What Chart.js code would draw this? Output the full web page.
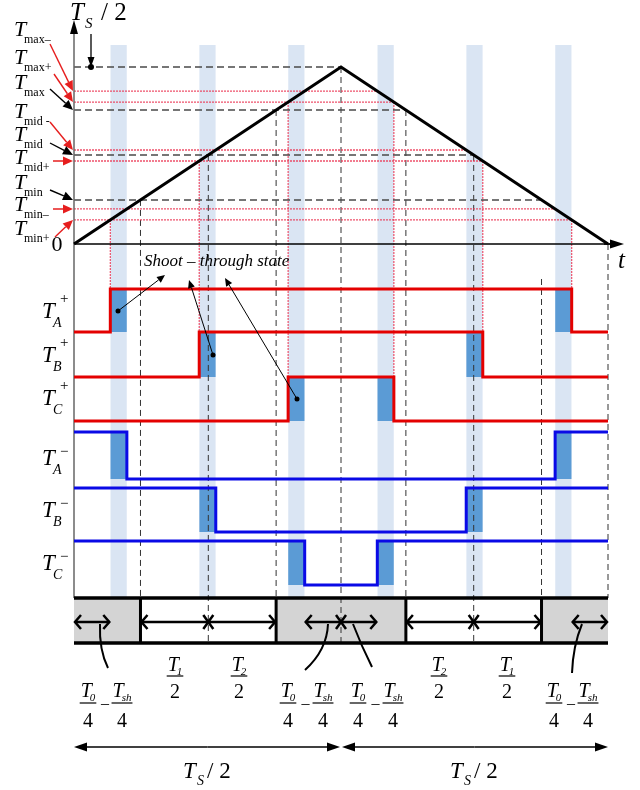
<!DOCTYPE html>
<html>
<head>
<meta charset="utf-8">
<script src="https://cdn.jsdelivr.net/npm/chart.js@4.4.0/dist/chart.umd.min.js"></script>
<style>
body { margin: 0; background: #fff; }
#wrap { width: 640px; height: 790px; }
</style>
</head>
<body>
<div id="wrap"><canvas id="mycanvas" width="640" height="790"></canvas></div>
<script>
// carrier: time as a fraction of Ts, value as a fraction of the peak (Ts/2)
var carrierTime = [0, 0.5, 1];
var carrierValue = [0, 1, 0];

// reference levels on the left axis (fraction of peak)
var levelNames  = ['max\u2013', 'max+', 'max', 'mid -', 'mid', 'mid+', 'min', 'min\u2013', 'min+'];
var levelValues = [0.864, 0.802, 0.757, 0.531, 0.503, 0.469, 0.249, 0.198, 0.136];
var levelShoot  = [1, 1, 0, 1, 0, 1, 0, 1, 1];

// which level switches which leg
var phaseNames  = ['A', 'B', 'C'];
var upperLevels = [0.136, 0.469, 0.802];   // Tmin+, Tmid+, Tmax+
var lowerLevels = [0.198, 0.531, 0.864];   // Tmin-, Tmid-, Tmax-
var refLevels   = [0.249, 0.503, 0.757];   // Tmin, Tmid, Tmax

// interval labels under the bar
var zeroLabel = ['0', 'sh'];
var activeLabels = ['1', '2', '2', '1'];

// layout (pixels)
var X0 = 74, XW = 534;
var lay = {
  base: 244, peak: 67, bandTop: 45, barTop: 598, barBot: 643, arrowY: 622, spanY: 747,
  rowHigh: [289, 332, 377, 432, 488, 541],
  rowLow:  [332, 377, 421, 479, 532, 585],
  axisTop: 20, tEnd: (624 - X0) / XW
};
function cy(v) { return lay.base - (lay.base - lay.peak) * v; }
function rise(v) { return v / 2; }
function fall(v) { return 1 - v / 2; }

var RED = 'rgb(228,0,0)', BLUE = 'rgb(10,10,230)';
var BAND = 'rgb(218,229,243)', DARK = 'rgb(91,155,213)', GRAY = 'rgb(212,212,212)';
var PINK = 'rgba(235,50,80,0.85)';

var ds = [];
function line(pts, color, w, dash, order) {
  ds.push({
    data: pts.map(function(p) { return {x: p[0], y: p[1]}; }),
    borderColor: color, borderWidth: w, borderDash: dash || [],
    pointRadius: 0, fill: false, order: order, tension: 0,
    borderCapStyle: 'butt', borderJoinStyle: 'miter'
  });
}
function box(t1, t2, top, bot, color, order) {
  ds.push({
    data: [{x: t1, y: top}, {x: t2, y: top}],
    borderColor: 'rgba(0,0,0,0)', borderWidth: 1, backgroundColor: color,
    fill: {value: bot}, pointRadius: 0, order: order
  });
}

// shoot-through bands and the dark blocks on each leg
for (var p = 0; p < 3; p++) {
  var up = upperLevels[p], lo = lowerLevels[p];
  box(rise(up), rise(lo), lay.bandTop, lay.barTop, BAND, 30);
  box(fall(lo), fall(up), lay.bandTop, lay.barTop, BAND, 30);
  [p, p + 3].forEach(function(r) {
    box(rise(up), rise(lo), lay.rowHigh[r], lay.rowLow[r], DARK, 25);
    box(fall(lo), fall(up), lay.rowHigh[r], lay.rowLow[r], DARK, 25);
  });
}

// bar below the legs
box(0, rise(refLevels[0]), lay.barTop, lay.barBot, GRAY, 25);
box(rise(refLevels[2]), fall(refLevels[2]), lay.barTop, lay.barBot, GRAY, 25);
box(fall(refLevels[0]), 1, lay.barTop, lay.barBot, GRAY, 25);

// level lines
for (var i = 0; i < levelValues.length; i++) {
  var v = levelValues[i];
  if (levelShoot[i]) line([[0, cy(v)], [fall(v), cy(v)]], PINK, 1.3, [2, 1], 20);
  else line([[0, cy(v)], [fall(v), cy(v)]], '#4a4a4a', 1.6, [7, 4], 20);
}
line([[0, cy(1)], [0.5, cy(1)]], '#4a4a4a', 1.6, [7, 4], 20);

// dashed verticals at the reference crossings
for (var k = 0; k < 3; k++) {
  var r = refLevels[k];
  line([[rise(r), cy(r)], [rise(r), lay.barBot]], '#333', 1, [6, 4], 20);
  var topF = k === 0 ? lay.rowHigh[0] - 10 : cy(r);
  line([[fall(r), topF], [fall(r), lay.barBot]], '#333', 1, [6, 4], 20);
}
line([[0.5, cy(1)], [0.5, lay.barBot]], '#333', 1, [6, 4], 20);
line([[1, lay.base], [1, lay.barTop]], '#333', 1, [6, 4], 20);

// red dotted verticals down to the upper legs
for (var p2 = 0; p2 < 3; p2++) {
  var u = upperLevels[p2];
  line([[rise(u), cy(u)], [rise(u), lay.rowHigh[p2]]], PINK, 1.2, [2, 1], 20);
  line([[fall(u), cy(u)], [fall(u), lay.rowHigh[p2]]], PINK, 1.2, [2, 1], 20);
}

// axes
line([[0, lay.barTop], [0, lay.axisTop + 10]], '#666', 1.5, [], 15);
line([[0, lay.base], [lay.tEnd - 0.02, lay.base]], '#000', 1.5, [], 15);

// carrier
line(carrierTime.map(function(t, j) { return [t, cy(carrierValue[j])]; }), '#000', 3, [], 5);

// gate signals
for (var p3 = 0; p3 < 3; p3++) {
  var L = upperLevels[p3], hi = lay.rowHigh[p3], lw = lay.rowLow[p3];
  line([[0, lw], [rise(L), lw], [rise(L), hi], [fall(L), hi], [fall(L), lw], [1, lw]], RED, 3, [], 5);
  var M = lowerLevels[p3], hi2 = lay.rowHigh[p3 + 3], lw2 = lay.rowLow[p3 + 3];
  line([[0, hi2], [rise(M), hi2], [rise(M), lw2], [fall(M), lw2], [fall(M), hi2], [1, hi2]], BLUE, 3, [], 5);
}

// bar outline and dividers
line([[0, lay.barTop], [1, lay.barTop]], '#000', 3.5, [], 4);
line([[0, lay.barBot], [1, lay.barBot]], '#000', 3.5, [], 4);
[rise(refLevels[0]), rise(refLevels[2]), fall(refLevels[2]), fall(refLevels[0])].forEach(function(t) {
  line([[t, lay.barTop], [t, lay.barBot]], '#000', 3, [], 4);
});

var serif = '"Liberation Serif", "Times New Roman", serif';

var labelsPlugin = {
  id: 'labels',
  afterDatasetsDraw: function(chart) {
    var ctx = chart.ctx, xs = chart.scales.x, ys = chart.scales.y;
    function X(t) { return xs.getPixelForValue(t); }
    function Y(v) { return ys.getPixelForValue(v); }
    function txt(s, x, y, size, italic, align) {
      ctx.font = (italic ? 'italic ' : '') + size + 'px ' + serif;
      ctx.textAlign = align || 'left';
      ctx.textBaseline = 'alphabetic';
      ctx.fillText(s, x, y);
    }
    function arrow(x1, y1, x2, y2, color, w, hl, hw) {
      var a = Math.atan2(y2 - y1, x2 - x1);
      var bx = x2 - hl * Math.cos(a), by = y2 - hl * Math.sin(a);
      ctx.strokeStyle = color; ctx.fillStyle = color; ctx.lineWidth = w;
      ctx.beginPath(); ctx.moveTo(x1, y1); ctx.lineTo(bx, by); ctx.stroke();
      ctx.beginPath(); ctx.moveTo(x2, y2);
      ctx.lineTo(bx + hw * Math.sin(a), by - hw * Math.cos(a));
      ctx.lineTo(bx - hw * Math.sin(a), by + hw * Math.cos(a));
      ctx.closePath(); ctx.fill();
    }
    function dot(x, y, r) { ctx.beginPath(); ctx.arc(x, y, r, 0, Math.PI * 2); ctx.fill(); }
    function chev(x, y, dir) {
      ctx.beginPath(); ctx.moveTo(x - dir * 6, y - 7); ctx.lineTo(x, y); ctx.lineTo(x - dir * 6, y + 7); ctx.stroke();
    }
    function cross(x, y) {
      ctx.beginPath(); ctx.moveTo(x - 5, y - 7); ctx.lineTo(x + 5, y + 7);
      ctx.moveTo(x + 5, y - 7); ctx.lineTo(x - 5, y + 7); ctx.stroke();
    }
    function frac(cx, sub, den, yNum, yBar, yDen) {
      ctx.font = 'italic 20px ' + serif;
      var wT = ctx.measureText('T').width;
      ctx.font = 'italic 11px ' + serif;
      var wS = ctx.measureText(sub).width;
      var w = wT + wS - 2, x0 = cx - w / 2;
      txt('T', x0, yNum, 20, true);
      txt(sub, x0 + wT - 2, yNum + 4, 11, true);
      ctx.strokeStyle = '#000'; ctx.lineWidth = 1.2;
      ctx.beginPath(); ctx.moveTo(cx - w / 2 - 1, yBar); ctx.lineTo(cx + w / 2 + 1, yBar); ctx.stroke();
      txt(den, cx, yDen, 20, false, 'center');
    }

    ctx.save();
    ctx.fillStyle = '#000';

    // axis heads
    arrow(X(0), Y(lay.axisTop + 14), X(0), Y(lay.axisTop), '#000', 1.5, 14, 4);
    arrow(X(lay.tEnd) - 20, Y(lay.base), X(lay.tEnd), Y(lay.base), '#000', 1.5, 14, 4.5);

    // top title and Ts/2 pointer
    ctx.fillStyle = '#000';
    txt('T', 70, 20, 25, true);
    txt('S', 85, 28, 15, true);
    txt('/ 2', 101, 20, 25, false);
    arrow(91, 34, 91, Y(cy(1)), '#000', 1.3, 10, 3.5);
    dot(91, Y(cy(1)), 3);

    // level labels and their pointers
    var labY = [36, 64, 89, 118, 141, 164, 189, 211, 235];
    var tails = [[50, 44], [54, 74], [50, 89], [50, 122], [50, 143], [53, 161], [50, 190], [53, 209], [55, 237]];
    for (var i = 0; i < levelValues.length; i++) {
      ctx.fillStyle = '#000';
      txt('T', 14, labY[i], 22, true);
      txt(levelNames[i], 24, labY[i] + 7, 12, false);
      var col = levelShoot[i] ? 'rgb(230,30,30)' : '#000';
      arrow(tails[i][0], tails[i][1], X(0) - 1, Y(cy(levelValues[i])), col, 1.4, 10, 4.5);
    }
    ctx.fillStyle = '#000';
    txt('0', 57, 251, 22, false, 'center');
    txt('t', 618, 268, 25, true);

    // shoot-through note
    txt('Shoot \u2013 through state', 144, 266, 17, true);
    var notes = [[118, 311, 165, 275], [213, 355, 189, 280], [297, 399, 225, 278]];
    notes.forEach(function(n) {
      arrow(n[0], n[1], n[2], n[3], '#000', 1, 8, 3.5);
      ctx.fillStyle = '#000';
      dot(n[0], n[1], 2.5);
    });

    // leg labels
    var rowBase = [318, 362, 405, 465, 517, 570];
    for (var r = 0; r < 6; r++) {
      ctx.fillStyle = '#000';
      txt('T', 42, rowBase[r], 23, true);
      txt(phaseNames[r % 3], 53, rowBase[r] + 9, 14, true);
      ctx.font = '15px ' + serif; ctx.textAlign = 'left'; ctx.textBaseline = 'middle';
      if (r < 3) ctx.fillText('+', 60, rowBase[r] - 19);
      else ctx.fillText('\u2212', 60, rowBase[r] - 13);
    }

    // arrows inside the bar
    ctx.strokeStyle = '#000'; ctx.lineWidth = 2.5;
    var ay = Y(lay.arrowY);
    var spans = [
      [0, rise(upperLevels[0]), null],
      [rise(refLevels[0]), rise(refLevels[2]), rise(refLevels[1])],
      [rise(lowerLevels[2]), fall(lowerLevels[2]), 0.5],
      [fall(refLevels[2]), fall(refLevels[0]), fall(refLevels[1])],
      [fall(upperLevels[0]), 1, null]
    ];
    spans.forEach(function(s) {
      var a = X(s[0]) + 1, b = X(s[1]) - 1;
      ctx.beginPath(); ctx.moveTo(a, ay); ctx.lineTo(b, ay); ctx.stroke();
      chev(a, ay, -1); chev(b, ay, 1);
      if (s[2] !== null) cross(X(s[2]), ay);
    });

    // leader curves to the zero-vector labels
    ctx.lineWidth = 2;
    var leads = [[100, 624, 99, 650, 108, 668], [328, 624, 327, 650, 305, 670], [353, 624, 361, 645, 372, 667], [582, 624, 573, 646, 572, 673]];
    leads.forEach(function(c) {
      ctx.beginPath(); ctx.moveTo(c[0], c[1]); ctx.quadraticCurveTo(c[2], c[3], c[4], c[5]); ctx.stroke();
    });

    // fractions
    ctx.fillStyle = '#000';
    var groups = [[88, 122], [288, 323], [358, 393], [554, 588]];
    groups.forEach(function(g) {
      frac(g[0], zeroLabel[0], '4', 697, 703, 727);
      txt('\u2013', (g[0] + g[1]) / 2, 708, 16, false, 'center');
      frac(g[1], zeroLabel[1], '4', 697, 703, 727);
    });
    var activeX = [175, 239, 439, 507];
    activeX.forEach(function(x, j) { frac(x, activeLabels[j], '2', 671, 676, 698); });

    // half-period spans
    var sy = Y(lay.spanY);
    arrow(X(0.25), sy, X(0), sy, '#000', 1.5, 13, 4.5);
    arrow(X(0.25), sy, X(0.5) - 1, sy, '#000', 1.5, 13, 4.5);
    arrow(X(0.75), sy, X(0.5) + 1, sy, '#000', 1.5, 13, 4.5);
    arrow(X(0.75), sy, X(1), sy, '#000', 1.5, 13, 4.5);
    [183, 450].forEach(function(x) {
      ctx.fillStyle = '#000';
      txt('T', x, 778, 23, true);
      txt('S', x + 14, 785, 14, true);
      txt('/ 2', x + 24, 778, 23, false);
    });
    ctx.restore();
  }
};

var chart = new Chart(document.getElementById('mycanvas'), {
  type: 'line',
  data: { datasets: ds },
  options: {
    responsive: false,
    animation: false,
    events: [],
    layout: { padding: 0, autoPadding: false },
    plugins: { legend: { display: false }, tooltip: { enabled: false }, title: { display: false } },
    scales: {
      x: { type: 'linear', display: false, min: -X0 / XW, max: (640 - X0) / XW },
      y: { type: 'linear', display: false, min: 0, max: 790, reverse: true }
    }
  },
  plugins: [labelsPlugin]
});
</script>
</body>
</html>
